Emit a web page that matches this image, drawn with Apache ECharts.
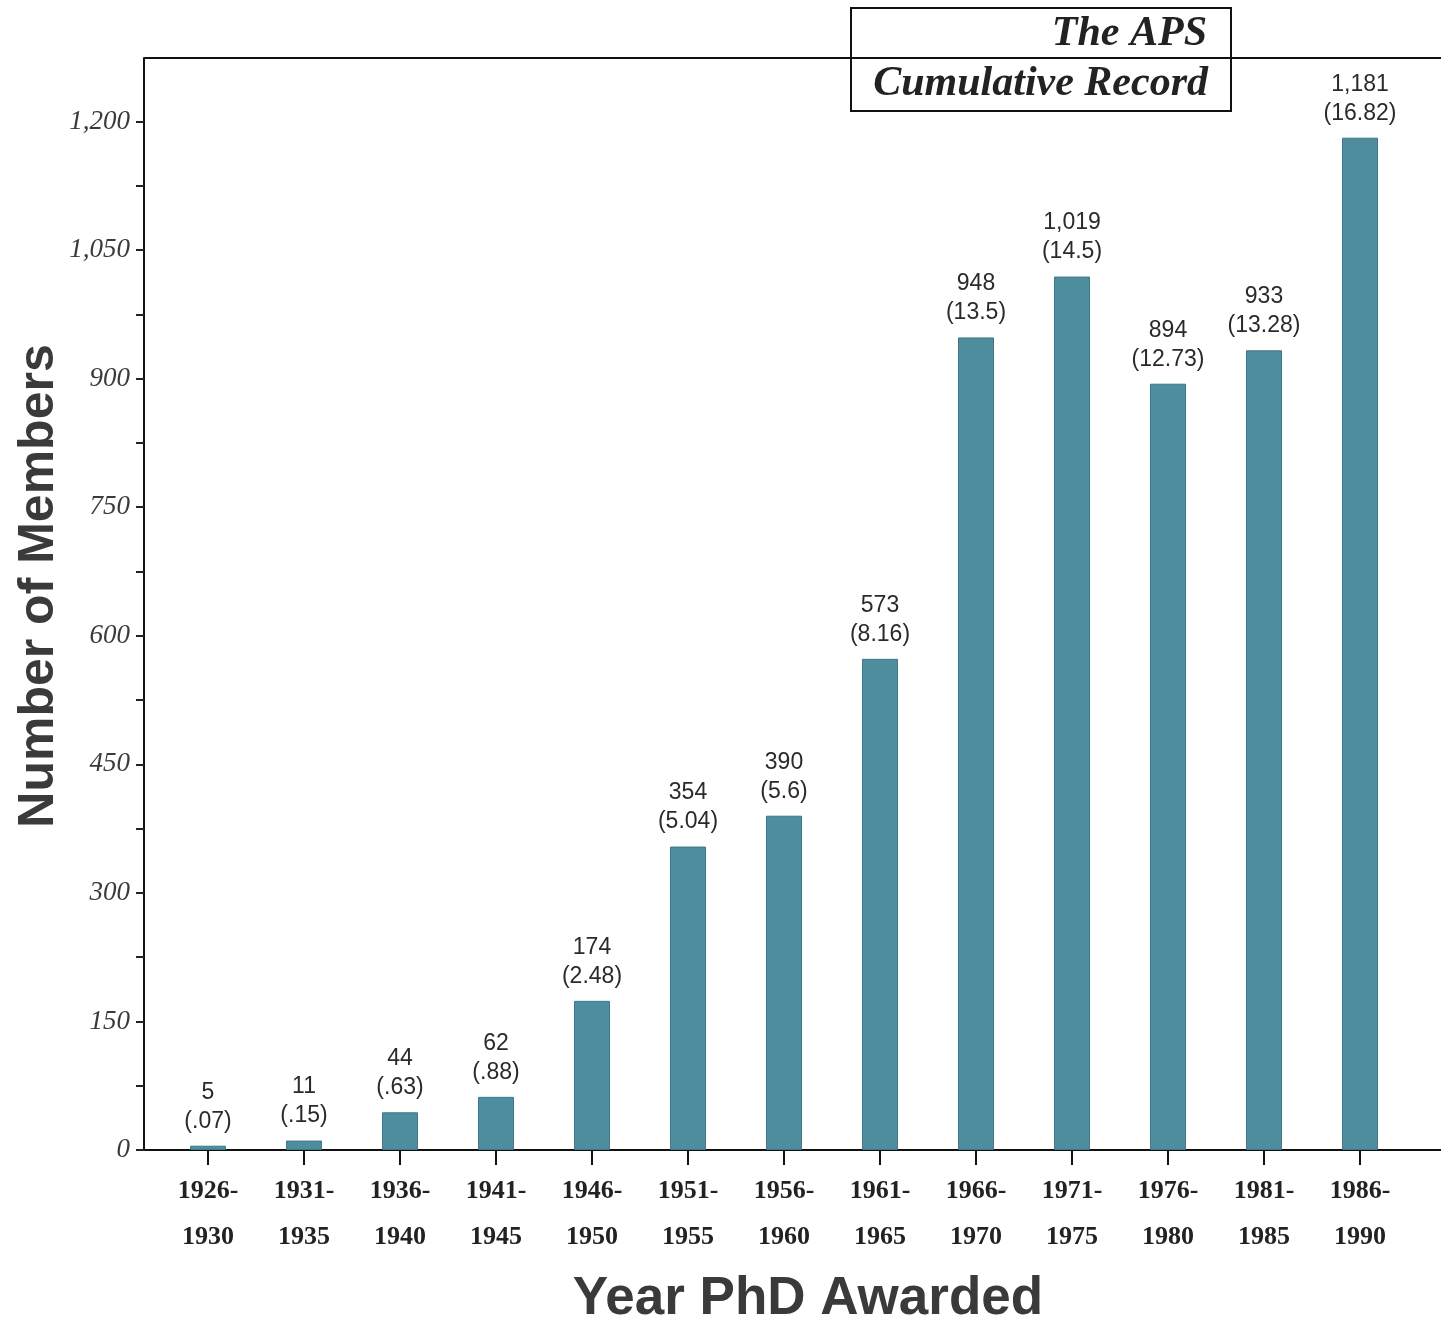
<!DOCTYPE html>
<html>
<head>
<meta charset="utf-8">
<script src="https://cdn.jsdelivr.net/npm/echarts@6/dist/echarts.min.js"></script>
<style>
  html, body { margin: 0; padding: 0; background: #fff; }
  #chart { width: 1441px; height: 1323px; }
</style>
</head>
<body>
<div id="chart"></div>
<script>
// data
const periods = ['1926-\n1930', '1931-\n1935', '1936-\n1940', '1941-\n1945', '1946-\n1950',
  '1951-\n1955', '1956-\n1960', '1961-\n1965', '1966-\n1970', '1971-\n1975',
  '1976-\n1980', '1981-\n1985', '1986-\n1990'];
const members = [5, 11, 44, 62, 174, 354, 390, 573, 948, 1019, 894, 933, 1181];
const percents = ['.07', '.15', '.63', '.88', '2.48', '5.04', '5.6', '8.16', '13.5', '14.5', '12.73', '13.28', '16.82'];

const yLabelValues = [0, 150, 300, 450, 600, 750, 900, 1050, 1200];
const yTickValues = [0, 75, 150, 225, 300, 375, 450, 525, 600, 675, 750, 825, 900, 975, 1050, 1125, 1200];

const fmt = v => Number(v).toLocaleString('en-US');

const el = document.getElementById('chart');
const chart = echarts.init(el, null, { renderer: 'canvas' });

const option = {
  animation: false,
  backgroundColor: '#fff',
  // fixed plot box; v6 would otherwise shrink it to keep the names inside
  grid: { left: 160, right: 33, top: 58, bottom: 173, containLabel: false, outerBoundsMode: 'none' },

  xAxis: {
    type: 'category',
    data: periods,
    name: 'Year PhD Awarded',
    nameLocation: 'middle',
    nameGap: 123,
    nameMoveOverlap: false,
    nameTextStyle: {
      fontFamily: 'Liberation Sans',
      fontWeight: 'bold',
      fontSize: 53,
      color: '#3a3a3a',
      padding: [0, 0, 0, 48]
    },
    axisLine: { show: true, lineStyle: { color: '#111', width: 2 } },
    axisTick: { show: true, alignWithLabel: true, length: 15, lineStyle: { color: '#111', width: 2 } },
    axisLabel: {
      margin: 18,
      fontFamily: 'Liberation Serif',
      fontWeight: 'bold',
      fontSize: 26,
      lineHeight: 46,
      color: '#222'
    },
    splitLine: { show: false }
  },

  yAxis: {
    type: 'value',
    min: 0,
    max: 1274,
    offset: 16,
    name: 'Number of Members',
    nameLocation: 'middle',
    nameGap: 80,
    nameMoveOverlap: false,
    nameTextStyle: {
      fontFamily: 'Liberation Sans',
      fontWeight: 'bold',
      fontSize: 50,
      color: '#3a3a3a',
      padding: [0, 0, 0, 36]
    },
    axisLine: { show: true, lineStyle: { color: '#111', width: 2 } },
    axisTick: {
      show: true,
      length: 8,
      customValues: yTickValues,
      lineStyle: { color: '#222', width: 2 }
    },
    axisLabel: {
      customValues: yLabelValues,
      margin: 14,
      fontFamily: 'Liberation Serif',
      fontStyle: 'italic',
      fontSize: 27,
      color: '#3a3a3a',
      formatter: v => fmt(v)
    },
    splitLine: { show: false }
  },

  series: [
    {
      name: 'Members',
      type: 'bar',
      data: members,
      barWidth: 36,
      itemStyle: { color: '#4e8d9e', borderColor: '#3e7888', borderWidth: 1 },
      label: {
        show: true,
        position: 'top',
        distance: 10,
        fontFamily: 'Liberation Sans',
        fontSize: 23,
        lineHeight: 29,
        color: '#2a2a2a',
        formatter: p => fmt(p.value) + '\n(' + percents[p.dataIndex] + ')'
      }
    }
  ],

  // frame pieces and the boxed caption
  graphic: [
    { type: 'line', silent: true, z: 5, shape: { x1: 144, y1: 58, x2: 1441, y2: 58 }, style: { stroke: '#111', lineWidth: 2 } },
    { type: 'line', silent: true, z: 5, shape: { x1: 144, y1: 1150, x2: 161, y2: 1150 }, style: { stroke: '#111', lineWidth: 2 } },
    { type: 'line', silent: true, z: 5, shape: { x1: 1407, y1: 1150, x2: 1441, y2: 1150 }, style: { stroke: '#111', lineWidth: 2 } },
    {
      type: 'group',
      z: 10,
      children: [
        { type: 'rect', shape: { x: 851, y: 8, width: 380, height: 103 }, style: { fill: '#fff', stroke: '#111', lineWidth: 2 } },
        {
          type: 'text', x: 1207, y: 34,
          style: { text: 'The APS', align: 'right', verticalAlign: 'middle', fill: '#222',
            font: 'italic bold 42px "Liberation Serif"' }
        },
        {
          type: 'text', x: 1208, y: 84,
          style: { text: 'Cumulative Record', align: 'right', verticalAlign: 'middle', fill: '#222',
            font: 'italic bold 42px "Liberation Serif"' }
        }
      ]
    }
  ]
};

chart.setOption(option, true);
</script>
</body>
</html>
